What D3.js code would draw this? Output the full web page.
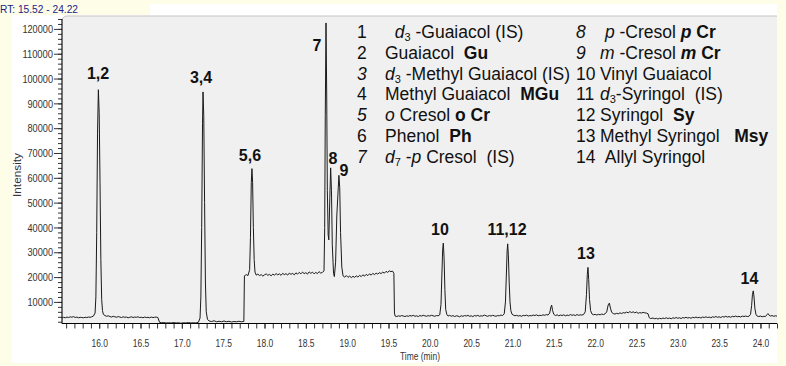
<!DOCTYPE html>
<html><head><meta charset="utf-8">
<script src="https://cdn.jsdelivr.net/npm/d3@7"></script>
<style>
html,body{margin:0;padding:0;background:#fdfde8;}
svg{display:block;}
</style></head><body>
<svg id="c" width="786" height="366"></svg>
<script>
// ---------- DATA ----------
const rtLabel = "RT: 15.52 - 24.22";
const xTitle = "Time (min)";
const yTitle = "Intensity";
const xMajorTicks = [16.0,16.5,17.0,17.5,18.0,18.5,19.0,19.5,20.0,20.5,21.0,21.5,22.0,22.5,23.0,23.5,24.0];
const xMinorTicks = [15.6,15.7,15.8,15.9,16.0,16.1,16.2,16.3,16.4,16.5,16.6,16.7,16.8,16.9,17.0,17.1,17.2,17.3,17.4,17.5,17.6,17.7,17.8,17.9,18.0,18.1,18.2,18.3,18.4,18.5,18.6,18.7,18.8,18.9,19.0,19.1,19.2,19.3,19.4,19.5,19.6,19.7,19.8,19.9,20.0,20.1,20.2,20.3,20.4,20.5,20.6,20.7,20.8,20.9,21.0,21.1,21.2,21.3,21.4,21.5,21.6,21.7,21.8,21.9,22.0,22.1,22.2,22.3,22.4,22.5,22.6,22.7,22.8,22.9,23.0,23.1,23.2,23.3,23.4,23.5,23.6,23.7,23.8,23.9,24.0,24.1,24.2];
const yMajorTicks = [10000,20000,30000,40000,50000,60000,70000,80000,90000,100000,110000,120000];
const yMinorTicks = [2000,4000,6000,8000,10000,12000,14000,16000,18000,20000,22000,24000,26000,28000,30000,32000,34000,36000,38000,40000,42000,44000,46000,48000,50000,52000,54000,56000,58000,60000,62000,64000,66000,68000,70000,72000,74000,76000,78000,80000,82000,84000,86000,88000,90000,92000,94000,96000,98000,100000,102000,104000,106000,108000,110000,112000,114000,116000,118000,120000,122000,124000];

// chromatogram trace [time (min), intensity]
const trace = [
[15.55,3500],[15.57,3800],[15.59,3600],[15.61,3900],[15.63,3700],[15.65,4000],[15.67,3800],[15.69,4100],[15.71,3700],[15.73,3900],[15.75,3600],[15.77,3800],[15.79,3700],[15.81,3600],[15.83,3800],[15.85,3700],[15.87,3900],[15.89,3800],[15.91,4000],[15.93,4300],[15.95,5500],
[15.96,12000],[15.97,38000],[15.98,78000],[15.99,95500],[16.00,86000],[16.01,58000],[16.02,27000],[16.03,11000],[16.04,6500],[16.05,5000],[16.07,4500],
[16.09,4200],[16.11,4400],[16.13,4100],[16.15,3900],[16.17,4200],[16.19,4000],[16.21,3800],[16.23,4100],[16.25,3900],[16.27,3700],[16.29,4000],[16.31,3800],[16.33,3900],[16.35,3600],[16.37,3800],[16.39,4000],[16.41,3700],[16.43,3900],[16.45,3800],[16.47,4000],[16.49,3700],[16.51,3800],[16.53,3600],[16.55,3900],[16.57,3700],[16.59,3800],[16.61,3600],[16.63,3900],[16.65,3700],[16.67,3800],[16.69,3900],[16.71,3700],
[16.73,1800],[16.75,1600],[16.78,1700],[16.81,1500],[16.84,1600],[16.87,1500],[16.90,1700],[16.93,1500],[16.96,1600],[16.99,1400],[17.02,1600],[17.05,1500],[17.08,1700],[17.11,1500],[17.14,1600],[17.17,1500],[17.20,1800],[17.22,3500],
[17.23,12000],[17.24,40000],[17.25,82000],[17.256,94600],[17.265,85000],[17.275,50000],[17.285,18000],[17.295,6000],[17.31,3000],
[17.33,2300],[17.36,2100],[17.39,2400],[17.42,2000],[17.45,2200],[17.48,2000],[17.51,2300],[17.54,2000],[17.57,2200],[17.60,1900],[17.63,2100],[17.66,2000],[17.69,2200],[17.72,2000],[17.75,2100],
[17.757,20500],[17.78,21000],[17.80,20600],[17.82,23000],
[17.83,36000],[17.84,58000],[17.848,63700],[17.856,58000],[17.865,40000],[17.875,27000],[17.885,22000],[17.90,20800],
[17.92,21200],[17.94,20600],[17.96,21000],[17.98,20400],[18.00,20900],[18.02,21300],[18.04,20700],[18.06,21100],[18.08,20500],[18.10,21200],[18.12,20800],[18.14,21400],[18.16,20900],[18.18,21300],[18.20,20700],[18.22,21500],[18.24,21000],[18.26,21400],[18.28,20800],[18.30,21600],[18.32,21100],[18.34,21500],[18.36,20900],[18.38,21700],[18.40,21200],[18.42,21900],[18.44,21300],[18.46,22000],[18.48,21400],[18.50,21800],[18.52,21200],[18.54,22100],[18.56,21500],[18.58,22000],[18.60,21300],[18.62,21900],[18.64,21400],[18.66,22200],[18.68,21600],[18.70,21900],[18.72,22500],
[18.728,40000],[18.735,85000],[18.744,122400],[18.752,95000],[18.76,55000],[18.77,37000],[18.778,35000],
[18.79,52000],[18.80,64000],[18.81,55000],[18.82,33000],[18.835,21500],[18.845,20200],
[18.86,26000],[18.875,45000],[18.90,61000],[18.91,56000],[18.92,38000],[18.935,24000],[18.95,20500],
[18.97,20000],[18.99,20600],[19.01,19900],[19.03,20400],[19.05,19800],[19.07,20300],[19.09,19900],[19.11,20500],[19.13,20000],[19.15,20700],[19.17,20200],[19.19,20900],[19.21,20400],[19.23,21100],[19.25,20600],[19.27,21300],[19.29,20800],[19.31,21500],[19.33,21000],[19.35,21600],[19.37,21200],[19.39,21800],[19.41,21400],[19.43,22000],[19.45,21600],[19.47,22300],[19.49,21900],[19.51,22500],[19.53,22200],[19.55,22400],[19.565,21500],
[19.572,5500],[19.58,4300],
[19.60,4100],[19.62,4400],[19.64,4200],[19.66,4500],[19.68,4300],[19.70,4100],[19.72,4400],[19.74,4200],[19.76,4500],[19.78,4300],[19.80,4600],[19.82,4200],[19.84,4400],[19.86,4100],[19.88,4500],[19.90,4300],[19.92,4600],[19.94,4400],[19.96,4200],[19.98,4500],[20.00,4300],[20.02,4600],[20.04,4400],[20.06,4200],[20.08,4500],[20.10,4400],[20.12,4800],
[20.135,9000],[20.145,20000],[20.155,31000],[20.163,33700],[20.172,28000],[20.182,15000],[20.192,7000],[20.205,5000],
[20.22,4300],[20.24,4600],[20.26,4200],[20.28,4500],[20.30,4100],[20.32,4400],[20.34,4300],[20.36,4000],[20.38,4400],[20.40,4200],[20.42,4500],[20.44,4300],[20.46,4600],[20.48,4200],[20.50,4400],[20.52,4100],[20.54,4500],[20.56,4300],[20.58,4600],[20.60,4200],[20.62,4400],[20.64,4300],[20.66,4700],[20.68,4400],[20.70,4200],[20.72,4500],[20.74,4300],[20.76,4600],[20.78,4400],[20.80,4200],[20.82,4500],[20.84,4400],[20.86,4700],[20.88,4500],[20.90,5200],
[20.915,10000],[20.925,20000],[20.935,30500],[20.942,33400],[20.95,29000],[20.96,18000],[20.97,10000],[20.98,6500],[20.995,5000],
[21.01,4700],[21.03,4400],[21.05,4600],[21.07,4300],[21.09,4500],[21.11,4200],[21.13,4600],[21.15,4400],[21.17,4700],[21.19,4300],[21.21,4500],[21.23,4400],[21.25,4700],[21.27,4500],[21.29,4800],[21.31,4400],[21.33,4600],[21.35,4500],[21.37,4800],[21.39,4600],[21.41,4900],[21.43,4700],[21.45,5500],[21.465,8000],[21.474,8700],[21.485,6500],[21.50,5000],
[21.52,4500],[21.54,4800],[21.56,4400],[21.58,4700],[21.60,4500],[21.62,4800],[21.64,4400],[21.66,4700],[21.68,4500],[21.70,4900],[21.72,4600],[21.74,4800],[21.76,4500],[21.78,4900],[21.80,4600],[21.82,4800],[21.84,4700],[21.86,4900],[21.88,6000],
[21.895,13000],[21.905,21000],[21.913,23900],[21.922,19000],[21.932,11000],[21.945,6500],[21.96,5200],
[21.98,4800],[22.00,5000],[22.02,4700],[22.04,5000],[22.06,4800],[22.08,5100],[22.10,4900],[22.12,5200],[22.14,6000],[22.158,8800],[22.172,9500],[22.185,7500],[22.20,5800],
[22.22,5300],[22.24,5100],[22.26,5400],[22.28,5200],[22.30,5600],[22.32,5300],[22.34,5700],[22.36,5500],[22.38,5900],[22.40,5600],[22.42,6100],[22.44,5700],[22.46,6000],[22.48,5600],[22.50,5900],[22.52,5400],[22.54,5700],[22.56,5500],[22.58,5800],[22.60,5600],[22.62,5500],[22.64,5200],[22.655,3600],[22.67,3300],
[22.70,3500],[22.72,3200],[22.74,3400],[22.76,3100],[22.78,3400],[22.80,3200],[22.82,3500],[22.84,3300],[22.86,3600],[22.88,3300],[22.90,3500],[22.92,3200],[22.94,3600],[22.96,3400],[22.98,3700],[23.00,3400],[23.02,3600],[23.04,3300],[23.06,3700],[23.08,3500],[23.10,3800],[23.12,3500],[23.14,3700],[23.16,3400],[23.18,3800],[23.20,3600],[23.22,3900],[23.24,3600],[23.26,3800],[23.28,3500],[23.30,3900],[23.32,3700],[23.34,4000],[23.36,3700],[23.38,3900],[23.40,3600],[23.42,4000],[23.44,3800],[23.46,4100],[23.48,3800],[23.50,4000],[23.52,3700],[23.54,4100],[23.56,3900],[23.58,4200],[23.60,3900],[23.62,4100],[23.64,3800],[23.66,4200],[23.68,4000],[23.70,4300],[23.72,4000],[23.74,4200],[23.76,3900],[23.78,4300],[23.80,4100],[23.82,4300],[23.84,4100],[23.86,4200],[23.88,5000],
[23.893,8500],[23.903,13000],[23.913,14450],[23.922,12000],[23.932,7500],[23.945,5000],[23.96,4300],
[23.98,4100],[24.00,4300],[24.02,4000],[24.04,4200],[24.06,4100],[24.08,4900],[24.09,5300],[24.10,4800],[24.12,4300],[24.14,4500],[24.16,4200],[24.18,4400],[24.20,4300]
];

// peak labels, anchored in data coordinates (time, intensity)
const peakLabels = [
  {text:"1,2",   t:15.986, v:99800},
  {text:"3,4",   t:17.232, v:98150},
  {text:"5,6",   t:17.824, v:66600},
  {text:"7",     t:18.635, v:111100},
  {text:"8",     t:18.829, v:65400},
  {text:"9",     t:18.962, v:60900},
  {text:"10",    t:20.123, v:37100},
  {text:"11,12", t:20.934, v:37100},
  {text:"13",    t:21.889, v:27400},
  {text:"14",    t:23.867, v:17300}
];

// legend rows: number, number italic?, text parts [string, style]
const legendCol1 = [
  {num:"1", it:false, parts:[["\u00a0\u00a0",""],["d","i"],["3","sub"],[" -Guaiacol (IS)",""]]},
  {num:"2", it:false, parts:[["Guaiacol\u00a0\u00a0",""],["Gu","b"]]},
  {num:"3", it:true,  parts:[["d","i"],["3","sub"],[" -Methyl Guaiacol (IS)",""]]},
  {num:"4", it:false, parts:[["Methyl Guaiacol\u00a0\u00a0",""],["MGu","b"]]},
  {num:"5", it:true,  parts:[["o","i"],[" Cresol ",""],["o Cr","b"]]},
  {num:"6", it:false, parts:[["Phenol\u00a0\u00a0",""],["Ph","b"]]},
  {num:"7", it:true,  parts:[["d","i"],["7","sub"],[" -",""],["p","i"],[" Cresol\u00a0\u00a0(IS)",""]]}
];
const legendCol2 = [
  {num:"8",  it:true,  parts:[["\u00a0",""],["p","i"],[" -Cresol ",""],["p","bi"],[" Cr","b"]]},
  {num:"9",  it:true,  parts:[["m","i"],[" -Cresol ",""],["m","bi"],[" Cr","b"]]},
  {num:"10", it:false, parts:[["Vinyl Guaiacol",""]]},
  {num:"11", it:false, parts:[["d","i"],["3","sub"],["-Syringol\u00a0\u00a0(IS)",""]]},
  {num:"12", it:false, parts:[["Syringol\u00a0\u00a0",""],["Sy","b"]]},
  {num:"13", it:false, parts:[["Methyl Syringol\u00a0\u00a0\u00a0",""],["Msy","b"]]},
  {num:"14", it:false, parts:[["\u00a0Allyl Syringol",""]]}
];

// ---------- DRAW ----------
const W = 786, H = 366;
const plot = {left:62, right:777, top:16, bottom:323.5};
const svg = d3.select("#c");
const sans = "'Liberation Sans',Arial,Helvetica,sans-serif";

svg.append("rect").attr("width",W).attr("height",H).attr("fill","#fdfde8");
svg.append("rect").attr("x",12).attr("y",4).attr("width",765).attr("height",359).attr("fill","#ffffff");
svg.append("rect").attr("x",0).attr("y",0).attr("width",150).attr("height",15).attr("fill","#fdfde8");

svg.append("text").attr("x",0).attr("y",13)
  .attr("font-family",sans).attr("font-size",11).attr("fill","#22228a")
  .attr("textLength",78).attr("lengthAdjust","spacingAndGlyphs").text(rtLabel);

svg.append("rect").attr("x",plot.left).attr("y",plot.top)
  .attr("width",plot.right-plot.left+4).attr("height",plot.bottom-plot.top+4).attr("rx",5)
  .attr("fill","#f0f0f0").attr("stroke","#c4c4c4").attr("stroke-width",1);
svg.append("rect").attr("x",plot.left).attr("y",plot.bottom).attr("width",plot.right-plot.left+6).attr("height",10).attr("fill","#ffffff");
svg.append("rect").attr("x",plot.right).attr("y",plot.top-1).attr("width",12).attr("height",H).attr("fill","#fdfde8");

const x = d3.scaleLinear().domain([15.55,24.20]).range([plot.left,plot.right]);
const y = d3.scaleLinear().domain([1300,125200]).range([plot.bottom,plot.top]);

svg.append("clipPath").attr("id","clip").append("rect")
  .attr("x",plot.left).attr("y",plot.top).attr("width",plot.right-plot.left).attr("height",plot.bottom-plot.top);

// x axis
const gx = svg.append("g").attr("transform",`translate(0,${plot.bottom})`);
gx.call(d3.axisBottom(x).tickValues(xMinorTicks).tickSize(5).tickFormat(""))
  .call(g=>g.select(".domain").remove());
gx.selectAll(".tick line").attr("stroke","#333");
const gxl = svg.append("g").attr("transform",`translate(0,${plot.bottom})`);
gxl.call(d3.axisBottom(x).tickValues(xMajorTicks).tickSize(5).tickPadding(10).tickFormat(d3.format(".1f")))
  .call(g=>g.select(".domain").remove());
gxl.selectAll(".tick line").attr("stroke","#333");
gxl.selectAll("text").attr("font-family",sans).attr("font-size",11.5).attr("fill","#333")
  .attr("textLength",16.5).attr("lengthAdjust","spacingAndGlyphs");

// y axis
const gy = svg.append("g").attr("transform",`translate(${plot.left},0)`);
gy.call(d3.axisLeft(y).tickValues(yMinorTicks).tickSize(4).tickFormat(""))
  .call(g=>g.select(".domain").remove());
gy.selectAll(".tick line").attr("stroke","#333");
const gyl = svg.append("g").attr("transform",`translate(${plot.left},0)`);
gyl.call(d3.axisLeft(y).tickValues(yMajorTicks).tickSize(8).tickPadding(1).tickFormat(d3.format("d")))
  .call(g=>g.select(".domain").remove());
gyl.selectAll(".tick line").attr("stroke","#333");
gyl.selectAll("text").attr("font-family",sans).attr("font-size",11.5).attr("fill","#333")
  .attr("textLength",function(){ return this.textContent.length*5.1; })
  .attr("lengthAdjust","spacingAndGlyphs");

// axis lines
svg.append("line").attr("x1",plot.left).attr("x2",plot.left).attr("y1",plot.top+3).attr("y2",plot.bottom).attr("stroke","#000");
svg.append("line").attr("x1",plot.left).attr("x2",plot.right).attr("y1",plot.bottom).attr("y2",plot.bottom).attr("stroke","#000");

// titles
svg.append("text").attr("x",420).attr("y",360).attr("text-anchor","middle")
  .attr("font-family",sans).attr("font-size",10.5).attr("fill","#333")
  .attr("textLength",40).attr("lengthAdjust","spacingAndGlyphs").text(xTitle);
svg.append("text").attr("transform","translate(21,175) rotate(-90)").attr("text-anchor","middle")
  .attr("font-family",sans).attr("font-size",10.5).attr("fill","#333")
  .attr("textLength",44).attr("lengthAdjust","spacingAndGlyphs").text(yTitle);

// trace
const line = d3.line().x(d=>x(d[0])).y(d=>y(d[1]));
svg.append("path").datum(trace).attr("clip-path","url(#clip)")
  .attr("d",line).attr("fill","none").attr("stroke","#1a1a1a").attr("stroke-width",1).attr("stroke-linejoin","round");

// peak labels
svg.append("g").selectAll("text").data(peakLabels).join("text")
  .attr("x",d=>x(d.t)).attr("y",d=>y(d.v)).attr("text-anchor","middle")
  .attr("font-family",sans).attr("font-weight","bold").attr("font-size",16).attr("fill","#111")
  .text(d=>d.text);

// legend
function drawLegend(rows, numX, nameX, y0, dy){
  rows.forEach((r,i)=>{
    const yy = y0 + i*dy;
    svg.append("text").attr("x",numX).attr("y",yy).attr("font-family",sans).attr("font-size",17.5)
      .attr("fill","#111").attr("font-style",r.it?"italic":"normal").text(r.num);
    const t = svg.append("text").attr("x",nameX).attr("y",yy).attr("font-family",sans)
      .attr("font-size",17.5).attr("fill","#111");
    let off = 0;
    r.parts.forEach(([s,st])=>{
      const ts = t.append("tspan").text(s);
      if(st==="sub"){ ts.attr("font-size",11).attr("dy",3-off); off=3; }
      else if(off){ ts.attr("dy",-off); off=0; }
      if(st==="i"||st==="bi") ts.attr("font-style","italic");
      if(st==="b"||st==="bi") ts.attr("font-weight","bold");
    });
  });
}
drawLegend(legendCol1, 357, 385, 38, 20.8);
drawLegend(legendCol2, 576, 600, 38, 20.8);
</script>
</body></html>
